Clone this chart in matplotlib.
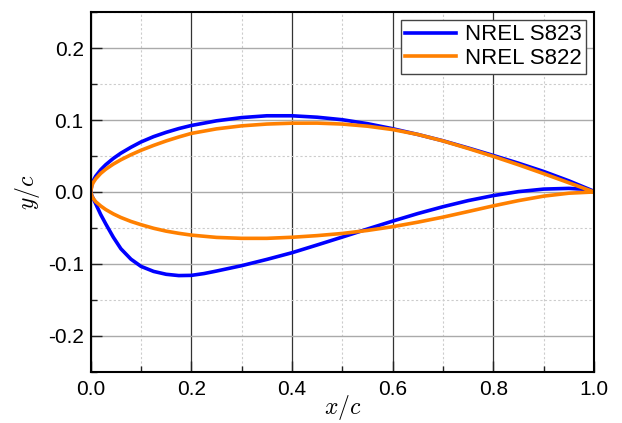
import matplotlib.pyplot as plt
from matplotlib.ticker import MultipleLocator

# NREL S823, upper surface TE -> LE, lower LE -> TE
S823_UP_X = [1.0, 0.95, 0.9, 0.85, 0.8, 0.75, 0.7, 0.65, 0.6, 0.55, 0.5, 0.45,
             0.4, 0.35, 0.3, 0.25, 0.2, 0.175, 0.15, 0.125, 0.1, 0.08, 0.06,
             0.045, 0.03, 0.02, 0.01, 0.005, 0.0025, 0.0]
S823_UP_Y = [0.001, 0.0155, 0.0285, 0.040, 0.0508, 0.0612, 0.0712, 0.080,
             0.088, 0.095, 0.1005, 0.104, 0.106, 0.106, 0.1035, 0.099, 0.0925,
             0.0882, 0.083, 0.077, 0.0696, 0.0622, 0.054, 0.0467, 0.038,
             0.031, 0.022, 0.0156, 0.011, 0.0]
S823_LO_X = [0.0, 0.0025, 0.005, 0.01, 0.02, 0.03, 0.045, 0.06, 0.08, 0.1,
             0.125, 0.15, 0.175, 0.2, 0.225, 0.25, 0.3, 0.35, 0.4, 0.45, 0.5,
             0.55, 0.6, 0.65, 0.7, 0.75, 0.8, 0.85, 0.9, 0.95, 0.975, 1.0]
S823_LO_Y = [0.0, -0.0055, -0.009, -0.0165, -0.0315, -0.0445, -0.063, -0.079,
             -0.0935, -0.1035, -0.1105, -0.1145, -0.1163, -0.116, -0.1135,
             -0.110, -0.1025, -0.0938, -0.0845, -0.0737, -0.0627, -0.0515,
             -0.0405, -0.030, -0.0205, -0.012, -0.005, 0.0005, 0.004, 0.005,
             0.004, 0.0]

# NREL S822
S822_UP_X = [1.0, 0.95, 0.9, 0.85, 0.8, 0.75, 0.7, 0.65, 0.6, 0.55, 0.5, 0.45,
             0.4, 0.35, 0.3, 0.25, 0.2, 0.175, 0.15, 0.125, 0.1, 0.08, 0.06,
             0.045, 0.03, 0.02, 0.01, 0.005, 0.0025, 0.0]
S822_UP_Y = [0.0, 0.0128, 0.0255, 0.0378, 0.0495, 0.0605, 0.071, 0.080,
             0.0868, 0.0915, 0.0945, 0.0958, 0.0957, 0.0945, 0.092, 0.0878,
             0.0815, 0.0765, 0.071, 0.0648, 0.058, 0.0518, 0.0448, 0.0388,
             0.0317, 0.0259, 0.0183, 0.013, 0.0092, 0.0]
S822_LO_X = [0.0, 0.0025, 0.005, 0.01, 0.02, 0.03, 0.045, 0.06, 0.08, 0.1,
             0.125, 0.15, 0.175, 0.2, 0.25, 0.3, 0.35, 0.4, 0.45, 0.5, 0.55,
             0.6, 0.65, 0.7, 0.75, 0.8, 0.85, 0.9, 0.95, 1.0]
S822_LO_Y = [0.0, -0.006, -0.009, -0.0135, -0.0195, -0.0245, -0.0305,
             -0.0355, -0.041, -0.0455, -0.0505, -0.0545, -0.0575, -0.060,
             -0.0632, -0.0645, -0.0645, -0.063, -0.0607, -0.0577, -0.0535,
             -0.0483, -0.042, -0.035, -0.0272, -0.0193, -0.012, -0.0058,
             -0.0017, 0.0]

LABELS = ["NREL S823", "NREL S822"]
COLORS = ["#0000ff", "#ff8000"]


def format_axes(ax):
    ax.set_xlim(0, 1)
    ax.set_ylim(-0.25, 0.25)
    ax.xaxis.set_major_locator(MultipleLocator(0.2))
    ax.xaxis.set_minor_locator(MultipleLocator(0.1))
    ax.yaxis.set_major_locator(MultipleLocator(0.1))
    ax.yaxis.set_minor_locator(MultipleLocator(0.05))

    ax.grid(axis="x", which="major", color="#333333", lw=0.9, ls="-")
    ax.grid(axis="y", which="major", color="#aaaaaa", lw=1.0, ls="-")
    ax.grid(which="minor", color="#cccccc", lw=0.8, ls=(0, (2, 2)))
    ax.set_axisbelow(True)

    ax.tick_params(which="both", direction="in", top=False, right=False,
                   width=1.0, colors="#222222")
    ax.tick_params(which="major", length=8, labelsize=15, labelcolor="black")
    ax.tick_params(which="minor", length=4)
    ax.tick_params(axis="x", which="major", pad=6)
    ax.tick_params(axis="y", which="major", pad=5)
    for sp in ax.spines.values():
        sp.set_linewidth(1.5)
        sp.set_color("black")

    ax.set_xlabel("$x/c$", fontsize=17, labelpad=-4.5)
    ax.set_ylabel("$y/c$", fontsize=17, labelpad=4)


def main():
    plt.rcParams["font.family"] = ["Liberation Sans", "DejaVu Sans"]
    plt.rcParams["mathtext.fontset"] = "cm"
    plt.rcParams["axes.unicode_minus"] = False

    fig = plt.figure(figsize=(6.22, 4.23), dpi=100)
    ax = fig.add_axes([0.1458, 0.1213, 0.8092, 0.8497])
    format_axes(ax)

    airfoils = [
        (S823_UP_X + S823_LO_X[1:], S823_UP_Y + S823_LO_Y[1:]),
        (S822_UP_X + S822_LO_X[1:], S822_UP_Y + S822_LO_Y[1:]),
    ]
    for (xs, ys), label, color in zip(airfoils, LABELS, COLORS):
        ax.plot(xs, ys, color=color, lw=2.6, label=label,
                solid_joinstyle="round")

    leg = ax.legend(loc="upper right", fontsize=16, fancybox=False,
                    framealpha=1, edgecolor="#444444", handlelength=2.3,
                    labelspacing=0.12, borderpad=0.2, handletextpad=0.4,
                    borderaxespad=0.35)
    leg.get_frame().set_linewidth(1.0)

    fig.savefig("out.png", dpi=100)


if __name__ == "__main__":
    main()
